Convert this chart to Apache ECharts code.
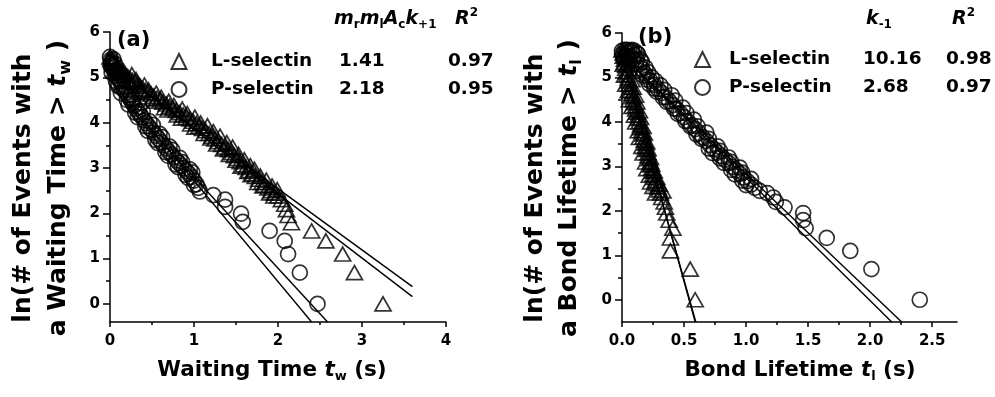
<!DOCTYPE html>
<html><head><meta charset="utf-8">
<script src="https://cdn.jsdelivr.net/npm/echarts@6/dist/echarts.min.js"></script>
<style>html,body{margin:0;padding:0;background:#fff}#c{width:995px;height:397px}</style>
</head><body><div id="c"></div>
<script>
// ---------- DATA ----------
const seriesNames = ['L-selectin', 'P-selectin'];
const paramA = ['1.41', '2.18'];
const r2A = ['0.97', '0.95'];
const paramB = ['10.16', '2.68'];
const r2B = ['0.98', '0.97'];

const xTicksA = [0, 1, 2, 3, 4];
const xMinorA = [0.5, 1.5, 2.5, 3.5];
const xTicksB = [0, 0.5, 1, 1.5, 2, 2.5];
const xMinorB = [0.25, 0.75, 1.25, 1.75, 2.25];
const yTicks = [0, 1, 2, 3, 4, 5, 6];
const yMinor = [0.5, 1.5, 2.5, 3.5, 4.5, 5.5];

// Panel (a): waiting time, L-selectin (triangles)
const lSelA = [[0.00,5.45],[0.01,5.41],[0.02,5.37],[0.03,5.33],[0.04,5.30],[0.06,5.26],[0.08,5.22],[0.10,5.18],[0.13,5.14],[0.15,5.10],[0.18,5.06],[0.21,5.02],[0.24,4.97],[0.27,4.93],[0.30,4.89],[0.33,4.85],[0.36,4.80],[0.39,4.75],[0.42,4.71],[0.45,4.67],[0.49,4.63],[0.52,4.58],[0.56,4.54],[0.60,4.50],[0.63,4.45],[0.67,4.41],[0.71,4.36],[0.75,4.31],[0.79,4.27],[0.83,4.22],[0.87,4.17],[0.91,4.12],[0.95,4.08],[0.99,4.03],[1.03,3.98],[1.06,3.92],[1.10,3.87],[1.14,3.82],[1.18,3.76],[1.22,3.70],[1.25,3.64],[1.29,3.58],[1.33,3.52],[1.37,3.46],[1.41,3.40],[1.45,3.34],[1.48,3.27],[1.52,3.21],[1.55,3.14],[1.59,3.07],[1.62,3.01],[1.66,2.94],[1.70,2.87],[1.73,2.81],[1.77,2.75],[1.81,2.68],[1.84,2.62],[1.88,2.56],[1.92,2.50],[1.96,2.44],[2.00,2.38],[2.04,2.30],[2.08,2.20],[2.10,2.08],[2.12,1.95],[2.16,1.79],[2.40,1.61],[2.57,1.39],[2.77,1.10],[2.91,0.69],[3.25,0.00],
  [0.05,5.15],[0.12,5.22],[0.20,4.92],[0.26,5.06],[0.35,4.72],[0.41,4.83],[0.50,4.52],[0.55,4.65],[0.65,4.33],[0.70,4.47],[0.80,4.17],[0.86,4.30],[0.96,3.97],[1.01,4.12],[1.12,3.76],[1.16,3.93],[1.27,3.53],[1.31,3.70],[1.42,3.30],[1.46,3.46],[1.56,3.04],[1.60,3.18],[1.68,2.85],[1.72,2.97],[1.82,2.60],[1.86,2.73],[1.95,2.38],[1.99,2.52],
  [0.03,5.40],[0.09,5.12],[0.16,5.14],[0.23,4.90],[0.31,4.95],[0.38,4.68],[0.46,4.72],[0.54,4.47],[0.61,4.56],[0.69,4.28],[0.76,4.38],[0.85,4.10],[0.92,4.20],[1.01,3.90],[1.08,3.99],[1.20,3.66],[1.23,3.80],[1.35,3.42],[1.39,3.56],[1.50,3.17],[1.53,3.30],[1.64,2.92],[1.67,3.05],[1.76,2.68],[1.79,2.82],[1.90,2.45],[1.93,2.60]];
// Panel (a): P-selectin (circles)
const pSelA = [[0.00,5.45],[0.01,5.39],[0.02,5.33],[0.03,5.27],[0.04,5.21],[0.05,5.15],[0.07,5.09],[0.08,5.03],[0.10,4.97],[0.12,4.91],[0.14,4.85],[0.15,4.79],[0.17,4.73],[0.19,4.67],[0.21,4.61],[0.23,4.55],[0.25,4.49],[0.27,4.43],[0.29,4.37],[0.31,4.31],[0.33,4.25],[0.36,4.18],[0.38,4.12],[0.41,4.05],[0.43,3.99],[0.46,3.92],[0.49,3.85],[0.52,3.78],[0.55,3.71],[0.58,3.64],[0.61,3.57],[0.64,3.50],[0.67,3.43],[0.70,3.36],[0.73,3.30],[0.76,3.24],[0.79,3.17],[0.82,3.11],[0.85,3.05],[0.88,2.99],[0.91,2.93],[0.94,2.87],[0.97,2.80],[1.00,2.72],[1.03,2.64],[1.05,2.56],[1.07,2.48],[1.23,2.40],[1.37,2.30],[1.37,2.14],[1.56,1.99],[1.58,1.81],[1.90,1.61],[2.08,1.39],[2.12,1.10],[2.26,0.69],[2.47,0.00],
  [0.02,5.10],[0.06,5.30],[0.10,4.80],[0.16,4.95],[0.20,4.50],[0.25,4.62],[0.30,4.22],[0.35,4.35],[0.42,3.92],[0.47,4.03],[0.54,3.62],[0.59,3.75],[0.66,3.35],[0.71,3.47],[0.78,3.08],[0.83,3.22],[0.90,2.85],[0.95,2.97],[1.00,2.62],
  [0.01,5.25],[0.04,5.40],[0.07,4.92],[0.12,5.05],[0.13,4.65],[0.19,4.78],[0.22,4.40],[0.28,4.52],[0.33,4.12],[0.39,4.25],[0.45,3.82],[0.51,3.95],[0.57,3.55],[0.62,3.68],[0.69,3.27],[0.74,3.40],[0.81,3.02],[0.86,3.13],[0.93,2.78],[0.98,2.90]];
// Panel (b): bond lifetime, L-selectin (triangles)
const lSelB = [[0.00,5.62],[0.01,5.55],[0.01,5.48],[0.02,5.41],[0.02,5.34],[0.03,5.27],[0.03,5.20],[0.04,5.13],[0.04,5.06],[0.05,4.99],[0.05,4.92],[0.06,4.85],[0.07,4.78],[0.07,4.71],[0.08,4.64],[0.09,4.57],[0.09,4.50],[0.10,4.43],[0.11,4.36],[0.11,4.29],[0.12,4.22],[0.13,4.15],[0.13,4.08],[0.14,4.01],[0.15,3.94],[0.15,3.87],[0.16,3.80],[0.17,3.73],[0.17,3.66],[0.18,3.59],[0.19,3.52],[0.19,3.45],[0.20,3.38],[0.21,3.31],[0.21,3.24],[0.22,3.17],[0.23,3.10],[0.23,3.03],[0.24,2.96],[0.25,2.89],[0.25,2.82],[0.26,2.75],[0.27,2.68],[0.28,2.61],[0.29,2.54],[0.30,2.47],[0.31,2.40],[0.32,2.30],[0.34,2.20],[0.35,2.08],[0.36,1.95],[0.38,1.79],[0.41,1.61],[0.39,1.39],[0.39,1.10],[0.55,0.69],[0.59,0.00],
  [0.02,5.05],[0.04,5.45],[0.05,4.70],[0.08,4.95],[0.08,4.35],[0.11,4.60],[0.11,4.00],[0.14,4.25],[0.14,3.65],[0.17,3.90],[0.17,3.30],[0.20,3.55],[0.20,2.95],[0.23,3.20],[0.23,2.65],[0.26,2.90],[0.27,2.40],[0.30,2.60],[0.33,2.45],
  [0.01,5.30],[0.03,4.85],[0.06,5.20],[0.06,4.50],[0.09,4.78],[0.10,4.15],[0.12,4.45],[0.13,3.80],[0.15,4.10],[0.16,3.45],[0.18,3.75],[0.19,3.10],[0.21,3.40],[0.22,2.80],[0.24,3.05],[0.25,2.55],[0.28,2.75]];
// Panel (b): P-selectin (circles)
const pSelB = [[0.00,5.60],[0.02,5.62],[0.04,5.62],[0.06,5.60],[0.08,5.57],[0.10,5.50],[0.12,5.40],[0.14,5.29],[0.16,5.19],[0.18,5.10],[0.20,5.02],[0.23,4.92],[0.26,4.83],[0.29,4.74],[0.32,4.65],[0.35,4.56],[0.38,4.47],[0.41,4.38],[0.44,4.29],[0.47,4.20],[0.50,4.11],[0.53,4.02],[0.56,3.93],[0.59,3.84],[0.62,3.75],[0.65,3.66],[0.68,3.57],[0.71,3.48],[0.74,3.39],[0.77,3.31],[0.80,3.23],[0.83,3.15],[0.86,3.07],[0.89,2.99],[0.92,2.91],[0.95,2.83],[0.98,2.75],[1.01,2.67],[1.04,2.59],[1.07,2.52],[1.11,2.45],[1.17,2.40],[1.22,2.30],[1.24,2.20],[1.31,2.08],[1.46,1.95],[1.46,1.79],[1.48,1.61],[1.65,1.39],[1.84,1.10],[2.01,0.69],[2.40,0.00],
  [0.01,5.45],[0.03,5.50],[0.05,5.45],[0.07,5.48],[0.09,5.40],[0.11,5.30],[0.13,5.52],[0.15,5.40],[0.17,5.05],[0.19,5.22],[0.22,4.85],[0.24,5.00],[0.28,4.68],[0.31,4.82],[0.36,4.45],[0.40,4.60],[0.45,4.18],[0.49,4.32],[0.55,3.90],[0.58,4.05],[0.64,3.62],[0.68,3.76],[0.73,3.30],[0.77,3.45],[0.82,3.08],[0.86,3.20],[0.91,2.82],[0.95,2.97],[1.00,2.58],[1.04,2.72],
  [0.00,5.52],[0.02,5.38],[0.04,5.55],[0.06,5.38],[0.08,5.62],[0.10,5.60],[0.12,5.55],[0.14,5.15],[0.16,5.35],[0.20,4.95],[0.21,5.12],[0.26,4.75],[0.27,4.92],[0.33,4.55],[0.34,4.72],[0.42,4.30],[0.43,4.48],[0.51,4.02],[0.52,4.20],[0.60,3.72],[0.61,3.90],[0.70,3.40],[0.70,3.62],[0.79,3.18],[0.79,3.35],[0.88,2.92],[0.88,3.10],[0.97,2.68],[0.97,2.86]];

// Fit lines (end points in data units)
const fitLA1 = [[0, 5.24], [3.6, 0.38]];
const fitLA2 = [[0, 5.27], [3.6, 0.16]];
const fitPA1 = [[0, 4.95], [2.40, -0.4]];
const fitPA2 = [[0, 4.81], [2.59, -0.4]];
const fitLB1 = [[0, 5.50], [0.59, -0.5]];
const fitLB2 = [[0, 5.42], [0.595, -0.5]];
const fitPB1 = [[0, 5.50], [2.174, -0.5]];
const fitPB2 = [[0, 5.50], [2.254, -0.5]];

// ---------- CHART ----------
const FF = '"DejaVu Sans", sans-serif';
const LS = { color: '#000', width: 1.5 };
const chart = echarts.init(document.getElementById('c'), null, { renderer: 'canvas' });

function xMajor(grid, min, max, ticks, fmt) {
  return { gridIndex: grid, type: 'value', min, max, position: 'bottom',
    axisLine: { show: true, onZero: false, lineStyle: LS },
    axisTick: { show: true, customValues: ticks, length: 5, lineStyle: LS },
    axisLabel: { show: true, customValues: ticks, margin: 12, fontSize: 15, fontWeight: 'bold', fontFamily: FF, color: '#000', formatter: fmt },
    splitLine: { show: false } };
}
function xMinorAx(grid, min, max, ticks) {
  return { gridIndex: grid, type: 'value', min, max, position: 'bottom',
    axisLine: { show: false, onZero: false },
    axisTick: { show: true, customValues: ticks, length: 3, lineStyle: LS },
    axisLabel: { show: false }, splitLine: { show: false } };
}
function yMajor(grid, min, max) {
  return { gridIndex: grid, type: 'value', min, max, position: 'left',
    axisLine: { show: true, onZero: false, lineStyle: LS },
    axisTick: { show: true, customValues: yTicks, length: 7, lineStyle: LS },
    axisLabel: { show: true, customValues: yTicks, margin: 10, fontSize: 15, fontWeight: 'bold', fontFamily: FF, color: '#000' },
    splitLine: { show: false } };
}
function yMinorAx(grid, min, max) {
  return { gridIndex: grid, type: 'value', min, max, position: 'left',
    axisLine: { show: false, onZero: false },
    axisTick: { show: true, customValues: yMinor, length: 4, lineStyle: LS },
    axisLabel: { show: false }, splitLine: { show: false } };
}

const mk = { color: 'rgba(255,255,255,0)', borderColor: '#000', borderWidth: 1.7 };
function scat(name, data, xi, yi, sym) {
  return { type: 'scatter', name, data, xAxisIndex: xi, yAxisIndex: yi,
    symbol: sym, symbolSize: sym === 'triangle' ? [16, 14] : 15,
    itemStyle: mk, z: 3, silent: true };
}
function fline(data, xi, yi) {
  return { type: 'line', data, xAxisIndex: xi, yAxisIndex: yi, showSymbol: false, symbol: 'none',
    lineStyle: { color: '#000', width: 1.4 }, z: 2, silent: true };
}

const labStyle = { fontSize: 18.5, fontWeight: 'bold', fontFamily: FF, color: '#000', lineHeight: 15 };
function legendCfg(left, top, gap, wN, wV, params, r2s) {
  return { orient: 'vertical', left, top, itemWidth: 15, itemHeight: 15, itemGap: 9, padding: 0,
    data: seriesNames, selectedMode: false,
    formatter: n => { const i = seriesNames.indexOf(n); return '{g| }{n|' + n + '}{v|' + params[i] + '}{r|' + r2s[i] + '}'; },
    textStyle: Object.assign({}, labStyle, { rich: {
      g: Object.assign({}, labStyle, { width: gap }),
      n: Object.assign({}, labStyle, { width: wN }),
      v: Object.assign({}, labStyle, { width: wV }),
      r: Object.assign({}, labStyle) } }) };
}

const base = { fontWeight: 'bold', fontFamily: FF, fill: '#000' };
function txt(x, y, text, size, opts) {
  opts = opts || {};
  const lh = Math.round(size * 1.25);
  return { type: 'text', x, y, rotation: opts.rot || 0, silent: true,
    style: Object.assign({}, base, { text, fontSize: size, lineHeight: lh,
      align: opts.align || 'center', verticalAlign: 'middle',
      rich: {
        i: Object.assign({}, base, { fontStyle: 'italic', fontSize: size, lineHeight: lh }),
        s: Object.assign({}, base, { fontSize: Math.round(size * 0.62), lineHeight: Math.round(size * 0.55), verticalAlign: 'bottom' }),
        p: Object.assign({}, base, { fontSize: Math.round(size * 0.62), lineHeight: Math.round(size * 0.55), verticalAlign: 'top' })
      } }) };
}

chart.setOption({
  animation: false,
  backgroundColor: '#fff',
  grid: [
    { left: 110, top: 32, width: 336, height: 290, outerBoundsMode: 'none', containLabel: false },
    { left: 622, top: 33, width: 335, height: 289, outerBoundsMode: 'none', containLabel: false }
  ],
  xAxis: [
    xMajor(0, 0, 4, xTicksA, v => String(v)),
    xMinorAx(0, 0, 4, xMinorA),
    xMajor(1, 0, 2.7, xTicksB, v => v.toFixed(1)),
    xMinorAx(1, 0, 2.7, xMinorB)
  ],
  yAxis: [
    yMajor(0, -0.4, 6),
    yMinorAx(0, -0.4, 6),
    yMajor(1, -0.5, 6),
    yMinorAx(1, -0.5, 6)
  ],
  legend: [
    legendCfg(170.5, 52, 19.5, 128, 109, paramA, r2A),
    legendCfg(694, 50, 14, 134, 83, paramB, r2B)
  ],
  series: [
    fline(fitLA1, 0, 0), fline(fitLA2, 0, 0), fline(fitPA1, 0, 0), fline(fitPA2, 0, 0),
    fline(fitLB1, 2, 2), fline(fitLB2, 2, 2), fline(fitPB1, 2, 2), fline(fitPB2, 2, 2),
    scat(seriesNames[0], lSelA, 0, 0, 'triangle'),
    scat(seriesNames[1], pSelA, 0, 0, 'circle'),
    scat(seriesNames[0], lSelB, 2, 2, 'triangle'),
    scat(seriesNames[1], pSelB, 2, 2, 'circle')
  ],
  graphic: [
    txt(117, 41, '(a)', 21, { align: 'left' }),
    txt(638, 38, '(b)', 21, { align: 'left' }),
    txt(334, 19, '{i|m}{s|r}{i|m}{s|l}{i|A}{s|c}{i|k}{s|+1}', 19, { align: 'left' }),
    txt(455, 19, '{i|R}{p|2}', 19, { align: 'left' }),
    txt(866, 19, '{i|k}{s|-1}', 19, { align: 'left' }),
    txt(952, 19, '{i|R}{p|2}', 19, { align: 'left' }),
    txt(272, 370, 'Waiting Time {i|t}{s|w} (s)', 21.5),
    txt(800, 370, 'Bond Lifetime {i|t}{s|l} (s)', 21.5),
    txt(23, 188, 'ln(# of Events with', 25, { rot: Math.PI / 2 }),
    txt(58, 188, 'a Waiting Time > {i|t}{s|w} )', 25, { rot: Math.PI / 2 }),
    txt(535, 188, 'ln(# of Events with', 25, { rot: Math.PI / 2 }),
    txt(569, 188, 'a Bond Lifetime > {i|t}{s|l} )', 25, { rot: Math.PI / 2 })
  ]
});
</script>
</body></html>
